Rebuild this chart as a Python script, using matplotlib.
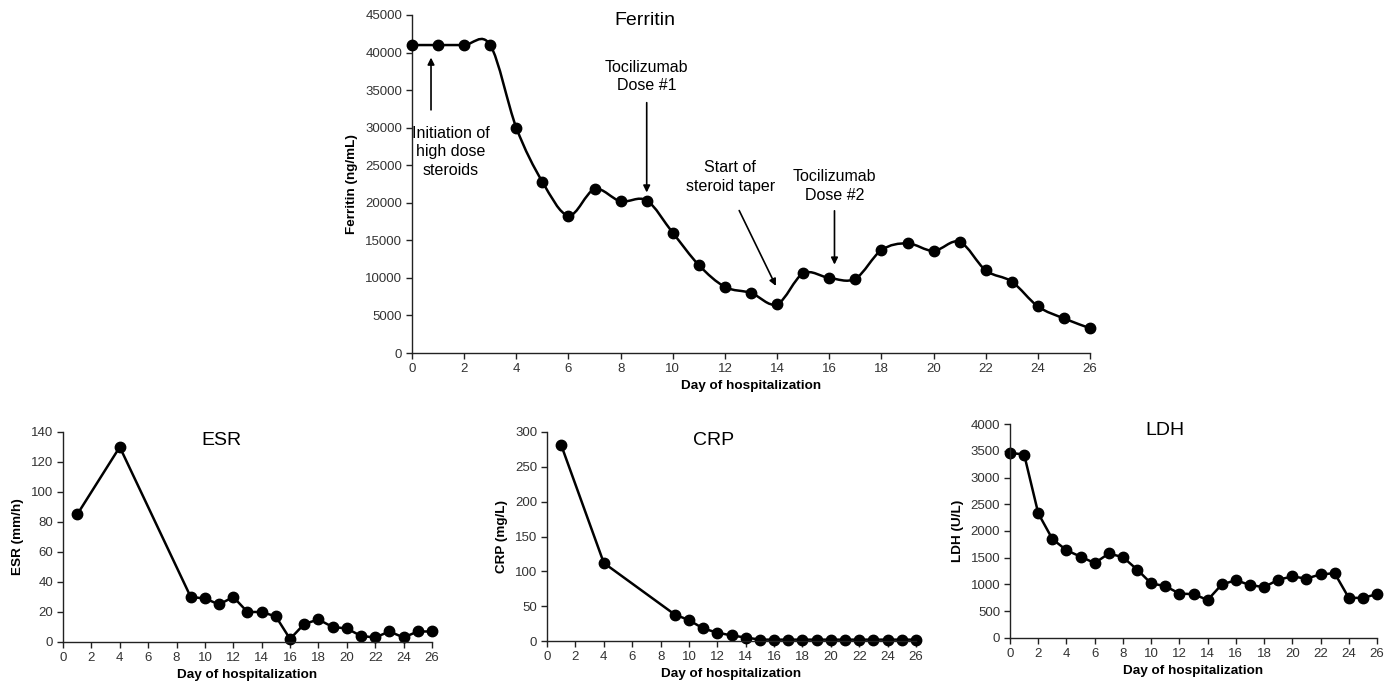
import matplotlib
matplotlib.use('Agg')
import matplotlib.pyplot as plt
from matplotlib.path import Path
from matplotlib.patches import PathPatch
import numpy as np

plt.rcParams['font.family'] = ['Liberation Sans', 'DejaVu Sans']

# ferritin, days 0..26
fer_days = list(range(27))
fer_vals = [41000, 41000, 41000, 41000, 30000, 22800, 18300, 21800, 20200, 20300,
            16000, 11700, 8800, 8000, 6500, 10600, 10000, 9900, 13700, 14600,
            13600, 14800, 11000, 9500, 6200, 4600, 3300]

esr_days = [1, 4, 9, 10, 11, 12, 13, 14, 15, 16, 17, 18, 19, 20, 21, 22, 23, 24, 25, 26]
esr_vals = [85, 130, 30, 29, 25, 30, 20, 20, 17, 2, 12, 15, 10, 9, 4, 3, 7, 3, 7, 7]

crp_days = [1, 4, 9, 10, 11, 12, 13, 14, 15, 16, 17, 18, 19, 20, 21, 22, 23, 24, 25, 26]
crp_vals = [281, 112, 38, 30, 18, 12, 8, 5, 2, 2, 2, 2, 2, 2, 2, 2, 2, 2, 2, 2]

ldh_days = list(range(27))
ldh_vals = [3460, 3430, 2330, 1850, 1640, 1520, 1400, 1580, 1510, 1280, 1020, 970,
            830, 820, 710, 1000, 1080, 990, 950, 1090, 1150, 1110, 1190, 1210,
            750, 750, 820]


def style(ax, ymax, ystep, ylabel):
    ax.set_xlim(0, 26)
    ax.set_ylim(0, ymax)
    ax.set_xticks(range(0, 27, 2))
    ax.set_yticks(np.arange(0, ymax + 1, ystep))
    for s in ['top', 'right']:
        ax.spines[s].set_visible(False)
    for s in ['left', 'bottom']:
        ax.spines[s].set_linewidth(1.0)
        ax.spines[s].set_color('#222222')
    ax.tick_params(direction='out', length=4, width=1, labelsize=9.5,
                   labelcolor='#333333', color='#222222', pad=3)
    ax.set_xlabel('Day of hospitalization', fontsize=9.7, fontweight='bold', labelpad=4)
    ax.set_ylabel(ylabel, fontsize=9.7, fontweight='bold', labelpad=5)
    ax.patch.set_alpha(0)


def smooth_path(x, y):
    # bezier path like a spreadsheet "smoothed line"
    x = np.asarray(x, float)
    y = np.asarray(y, float)
    n = len(x)
    verts = [(x[0], y[0])]
    codes = [Path.MOVETO]
    for i in range(n - 1):
        p0 = (x[max(i - 1, 0)], y[max(i - 1, 0)])
        p1 = (x[i], y[i])
        p2 = (x[i + 1], y[i + 1])
        p3 = (x[min(i + 2, n - 1)], y[min(i + 2, n - 1)])
        c1 = (p1[0] + (p2[0] - p0[0]) / 6, p1[1] + (p2[1] - p0[1]) / 6)
        c2 = (p2[0] - (p3[0] - p1[0]) / 6, p2[1] - (p3[1] - p1[1]) / 6)
        verts += [c1, c2, p2]
        codes += [Path.CURVE4] * 3
    return Path(verts, codes)


fig = plt.figure(figsize=(13.97, 6.88), dpi=100)

ax1 = fig.add_axes([0.2949, 0.4869, 0.4854, 0.4913])
ax2 = fig.add_axes([0.0451, 0.0669, 0.2641, 0.3052])
ax3 = fig.add_axes([0.3916, 0.0683, 0.2641, 0.3038])
ax4 = fig.add_axes([0.7230, 0.0727, 0.2627, 0.3110])

# Ferritin
style(ax1, 45000, 5000, 'Ferritin (ng/mL)')
ax1.add_patch(PathPatch(smooth_path(fer_days, fer_vals), facecolor='none',
                        edgecolor='black', lw=1.8, zorder=2))
ax1.plot(fer_days, fer_vals, 'o', color='black', ms=7.5, zorder=3, clip_on=False)
ax1.text(0.344, 0.985, 'Ferritin', transform=ax1.transAxes, ha='center', va='center', fontsize=14)

arrow = dict(arrowstyle='-|>', color='black', lw=1.2, mutation_scale=10)
ax1.annotate('', xy=(0.73, 39700), xytext=(0.73, 32000), arrowprops=arrow)
ax1.text(1.5, 26800, 'Initiation of\nhigh dose\nsteroids', ha='center', va='center',
         fontsize=11.5, linespacing=1.3)
ax1.annotate('', xy=(9.0, 21000), xytext=(9.0, 33700), arrowprops=arrow)
ax1.text(9.0, 36800, 'Tocilizumab\nDose #1', ha='center', va='center',
         fontsize=11.5, linespacing=1.25)
ax1.annotate('', xy=(14.0, 8600), xytext=(12.5, 19300), arrowprops=arrow)
ax1.text(12.2, 23400, 'Start of\nsteroid taper', ha='center', va='center',
         fontsize=11.5, linespacing=1.3)
ax1.annotate('', xy=(16.2, 11400), xytext=(16.2, 19300), arrowprops=arrow)
ax1.text(16.2, 22200, 'Tocilizumab\nDose #2', ha='center', va='center',
         fontsize=11.5, linespacing=1.3)

# ESR
style(ax2, 140, 20, 'ESR (mm/h)')
ax2.plot(esr_days, esr_vals, '-o', color='black', lw=1.8, ms=7.5, clip_on=False)
ax2.text(0.43, 0.96, 'ESR', transform=ax2.transAxes, ha='center', va='center', fontsize=14)

# CRP
style(ax3, 300, 50, 'CRP (mg/L)')
ax3.plot(crp_days, crp_vals, '-o', color='black', lw=1.8, ms=7.5, clip_on=False)
ax3.text(0.45, 0.957, 'CRP', transform=ax3.transAxes, ha='center', va='center', fontsize=14)

# LDH
style(ax4, 4000, 500, 'LDH (U/L)')
ax4.plot(ldh_days, ldh_vals, '-o', color='black', lw=1.8, ms=7.5, clip_on=False)
ax4.text(0.422, 0.97, 'LDH', transform=ax4.transAxes, ha='center', va='center', fontsize=14)

fig.savefig('out.png', dpi=100)
